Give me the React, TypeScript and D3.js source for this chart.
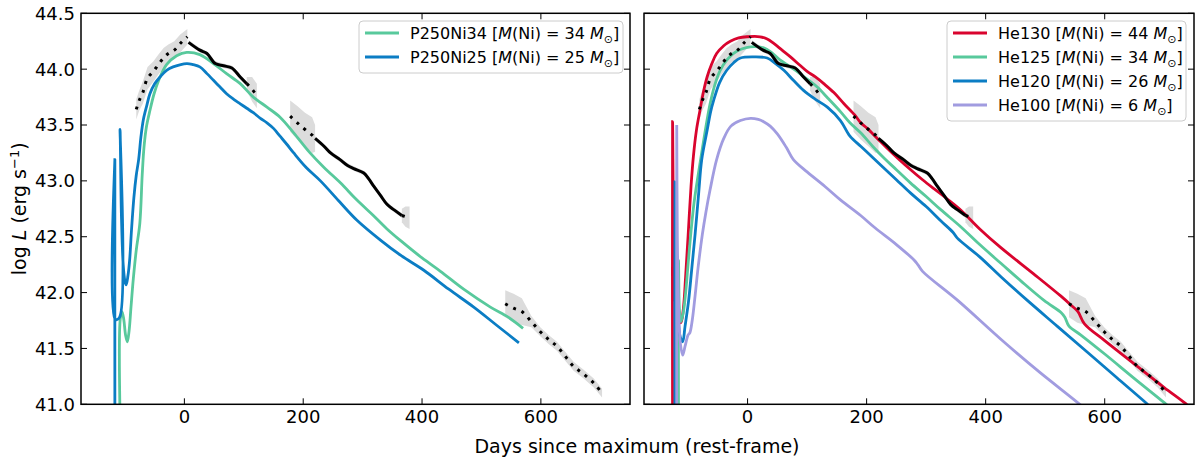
import * as d3 from "d3"

// tick values
const xTicks = [0, 200, 400, 600]
const yTicks = [41.0, 41.5, 42.0, 42.5, 43.0, 43.5, 44.0, 44.5]

// models, [days since max, log L]
const p250Ni34 = [
  [-108, 40.8], [-108, 41.76], [-105, 41.83], [-102, 41.76], [-99, 41.62], [-96, 41.56], [-93, 41.66],
  [-90, 41.86], [-86, 42.12], [-81, 42.38], [-75, 42.62], [-71, 43.05], [-68, 43.3], [-64, 43.48],
  [-58, 43.63], [-51, 43.78], [-44, 43.89], [-30, 44.04], [-13, 44.12], [4, 44.15], [26, 44.13],
  [49, 44.05], [71, 43.96], [94, 43.87], [116, 43.75], [139, 43.66], [161, 43.57], [184, 43.43],
  [210, 43.26], [235, 43.12], [263, 42.98], [290, 42.83], [318, 42.69], [341, 42.57], [365, 42.46],
  [400, 42.31], [431, 42.19], [470, 42.03], [515, 41.87], [545, 41.78], [570, 41.68],
]
const p250Ni25 = [
  [-117, 40.8], [-117, 43.19], [-116.3, 41.76], [-109, 41.78], [-108.3, 43.46], [-106, 42.7], [-103, 42.25],
  [-100, 42.1], [-98, 42.07], [-95, 42.15], [-92, 42.3], [-89, 42.56], [-85, 42.85], [-81, 43.05],
  [-77, 43.19], [-73, 43.4], [-69, 43.55], [-63, 43.68], [-58, 43.78], [-50, 43.87], [-41, 43.93],
  [-30, 43.99], [-19, 44.02], [4, 44.05], [15, 44.04], [26, 44.02], [38, 43.96], [49, 43.9],
  [60, 43.84], [71, 43.78], [83, 43.73], [94, 43.69], [105, 43.65], [116, 43.61], [128, 43.56],
  [139, 43.52], [150, 43.47], [161, 43.4], [172, 43.33], [184, 43.25], [205, 43.12], [229, 43.0],
  [260, 42.82], [290, 42.65], [330, 42.47], [365, 42.33], [403, 42.2], [445, 42.03], [487, 41.87],
  [525, 41.71], [563, 41.55],
]
const he130 = [
  [-126, 40.8], [-126, 43.53], [-124, 42.4], [-121, 41.9], [-116, 41.76], [-112, 41.73], [-108, 41.85],
  [-104, 42.15], [-100, 42.5], [-95, 42.95], [-91, 43.22], [-86, 43.45], [-80, 43.63], [-74, 43.8],
  [-68, 43.93], [-60, 44.05], [-52, 44.14], [-40, 44.21], [-29, 44.25], [-15, 44.28], [-1, 44.29],
  [21, 44.29], [33, 44.27], [44, 44.23], [58, 44.17], [72, 44.11], [89, 44.03], [100, 43.98],
  [114, 43.93], [128, 43.87], [145, 43.79], [162, 43.69], [180, 43.59], [190, 43.52], [201, 43.47],
  [218, 43.38], [235, 43.29], [255, 43.19], [274, 43.1], [294, 43.01], [313, 42.93], [335, 42.84],
  [358, 42.74], [390, 42.57], [426, 42.4], [480, 42.17], [526, 41.97], [545, 41.88], [555, 41.83],
  [566, 41.72], [600, 41.57], [650, 41.36], [700, 41.15], [735, 41.01], [745, 40.96],
]
const he125 = [
  [-116, 40.8], [-116, 42.29], [-114.5, 41.85], [-112, 41.74], [-108, 41.82], [-104, 42.0], [-100, 42.25],
  [-95, 42.55], [-90, 42.8], [-84, 43.02], [-78, 43.22], [-72, 43.42], [-63, 43.69], [-55, 43.86],
  [-46, 43.99], [-35, 44.08], [-24, 44.14], [-10, 44.18], [5, 44.2], [27, 44.19], [40, 44.15],
  [55, 44.08], [69, 44.03], [83, 43.98], [100, 43.91], [117, 43.84], [135, 43.74], [156, 43.62],
  [172, 43.52], [190, 43.43], [210, 43.31], [230, 43.2], [250, 43.1], [274, 42.98], [300, 42.86],
  [325, 42.74], [358, 42.59], [390, 42.43], [426, 42.26], [460, 42.1], [498, 41.93], [527, 41.82],
  [533, 41.78], [540, 41.7], [560, 41.62], [600, 41.45], [650, 41.23], [701, 41.01], [712, 40.96],
]
const he120 = [
  [-122, 40.8], [-122, 42.99], [-120, 42.2], [-117, 41.8], [-113, 41.6], [-109, 41.56], [-105, 41.7],
  [-99, 41.93], [-94, 42.2], [-88, 42.53], [-82, 42.9], [-77, 43.19], [-68, 43.45], [-62, 43.62],
  [-57, 43.72], [-47, 43.88], [-35, 43.99], [-23, 44.06], [-12, 44.1], [10, 44.11], [33, 44.1],
  [47, 44.05], [61, 43.99], [77, 43.9], [94, 43.81], [114, 43.73], [134, 43.66], [156, 43.54],
  [172, 43.4], [190, 43.31], [200, 43.26], [224, 43.14], [250, 43.01], [274, 42.89], [300, 42.77],
  [325, 42.64], [345, 42.54], [352, 42.49], [390, 42.32], [426, 42.14], [470, 41.93], [520, 41.7],
  [570, 41.47], [620, 41.24], [670, 41.01], [680, 40.96],
]
const he100 = [
  [-119, 40.8], [-119, 43.5], [-118, 42.5], [-116, 41.9], [-113, 41.55], [-109, 41.44], [-105, 41.52],
  [-100, 41.62], [-97, 41.64], [-93, 41.75], [-88, 41.98], [-83, 42.23], [-76, 42.52], [-70, 42.72],
  [-63, 42.92], [-52, 43.19], [-40, 43.38], [-28, 43.49], [-12, 43.54], [5, 43.56], [18, 43.55],
  [27, 43.53], [38, 43.49], [50, 43.42], [65, 43.3], [77, 43.19], [100, 43.08], [130, 42.95],
  [156, 42.83], [190, 42.69], [214, 42.58], [250, 42.43], [280, 42.29], [286, 42.25], [294, 42.19],
  [353, 41.93], [426, 41.58], [490, 41.29], [558, 41.0], [568, 40.95],
]

// observed bolometric light curve, [days, log L, error]
const obsRise = [
  [-81, 43.64, 0.09], [-76, 43.72, 0.09], [-70, 43.79, 0.1], [-62, 43.92, 0.1], [-52, 43.98, 0.09],
  [-44, 44.04, 0.09], [-35, 44.1, 0.09], [-27, 44.14, 0.08], [-17, 44.17, 0.08], [-7, 44.23, 0.08],
  [5, 44.29, 0.07],
]
const obsPeak = [
  [7, 44.24, 0.02], [26, 44.17, 0.02], [38, 44.14, 0.02], [52, 44.05, 0.02], [66, 44.03, 0.02],
  [80, 44.01, 0.02], [94, 43.93, 0.02], [105, 43.87, 0.02],
]
const obsPeakTail = [[105, 43.87, 0.06], [114, 43.82, 0.11], [122, 43.76, 0.11]]
const obsMidHead = [
  [178, 43.58, 0.14], [190, 43.52, 0.15], [203, 43.46, 0.15], [215, 43.41, 0.16], [220, 43.38, 0.12],
]
const obsMid = [
  [220, 43.38, 0.02], [235, 43.31, 0.02], [246, 43.25, 0.02], [262, 43.19, 0.02], [274, 43.14, 0.02],
  [285, 43.11, 0.02], [302, 43.07, 0.02], [310, 43.02, 0.02], [319, 42.95, 0.02], [330, 42.87, 0.02],
  [341, 42.79, 0.02], [353, 42.74, 0.02], [366, 42.69, 0.02],
]
const obsMidTail = [[366, 42.69, 0.06], [372, 42.68, 0.09], [379, 42.67, 0.1]]
const obsLate = [
  [540, 41.9, 0.12], [554, 41.86, 0.13], [568, 41.83, 0.12], [584, 41.74, 0.05], [599, 41.65, 0.04],
  [613, 41.58, 0.04], [627, 41.52, 0.04], [641, 41.43, 0.04], [655, 41.34, 0.04], [672, 41.27, 0.04],
  [689, 41.19, 0.04], [703, 41.1, 0.04],
]

const obsSolid = [obsPeak, obsMid]
const obsDotted = [obsRise, obsPeakTail, obsMidHead, obsMidTail, obsLate]

const leftModels = [
  { name: "P250Ni34", ni: 34, color: "#58c99c", data: p250Ni34 },
  { name: "P250Ni25", ni: 25, color: "#0b7dc4", data: p250Ni25 },
]
const rightModels = [
  { name: "He130", ni: 44, color: "#d9042e", data: he130 },
  { name: "He125", ni: 34, color: "#58c99c", data: he125 },
  { name: "He120", ni: 26, color: "#0b7dc4", data: he120 },
  { name: "He100", ni: 6, color: "#a19ce0", data: he100 },
]

const font = "DejaVu Sans, sans-serif"
const plotTop = 13.3
const plotBottom = 404.3

function Panel({ id, x0, x1, models, yLabels, legend }: any) {
  const x = d3.scaleLinear().domain([-174, 750]).range([x0, x1])
  const y = d3.scaleLinear().domain([41, 44.5]).range([plotBottom, plotTop])

  const line = d3
    .line<number[]>()
    .x((d) => x(d[0]))
    .y((d) => y(d[1]))
    .curve(d3.curveCatmullRom.alpha(0.5))

  const band = d3
    .area<number[]>()
    .x((d) => x(d[0]))
    .y0((d) => y(d[1] - d[2]))
    .y1((d) => y(d[1] + d[2]))

  const tick = 6
  const rowH = 24

  return (
    <g>
      <defs>
        <clipPath id={id}>
          <rect x={x0} y={plotTop} width={x1 - x0} height={plotBottom - plotTop} />
        </clipPath>
      </defs>
      <g clipPath={`url(#${id})`}>
        {[...obsDotted, ...obsSolid].map((seg, i) => (
          <path key={"b" + i} d={band(seg) as string} fill="#dcdcdc" />
        ))}
        {models.map((m: any) => (
          <path key={m.name} d={line(m.data) as string} fill="none" stroke={m.color} strokeWidth={2.8} />
        ))}
        {obsSolid.map((seg, i) => (
          <path key={"s" + i} d={line(seg) as string} fill="none" stroke="#000" strokeWidth={3} />
        ))}
        {obsDotted.map((seg, i) => (
          <path
            key={"d" + i}
            d={line(seg) as string}
            fill="none"
            stroke="#000"
            strokeWidth={3}
            strokeDasharray="3 6"
          />
        ))}
      </g>

      {/* ticks, inward on all sides */}
      {xTicks.map((t) => (
        <g key={"x" + t}>
          <line x1={x(t)} x2={x(t)} y1={plotBottom} y2={plotBottom - tick} stroke="#000" strokeWidth={1} />
          <line x1={x(t)} x2={x(t)} y1={plotTop} y2={plotTop + tick} stroke="#000" strokeWidth={1} />
          <text x={x(t)} y={423} textAnchor="middle" fontSize={18} fontFamily={font}>
            {t}
          </text>
        </g>
      ))}
      {yTicks.map((t) => (
        <g key={"y" + t}>
          <line x1={x0} x2={x0 + tick} y1={y(t)} y2={y(t)} stroke="#000" strokeWidth={1} />
          <line x1={x1} x2={x1 - tick} y1={y(t)} y2={y(t)} stroke="#000" strokeWidth={1} />
          {yLabels && (
            <text x={x0 - 6} y={y(t)} dy="0.36em" textAnchor="end" fontSize={18} fontFamily={font}>
              {t.toFixed(1)}
            </text>
          )}
        </g>
      ))}
      <rect x={x0} y={plotTop} width={x1 - x0} height={plotBottom - plotTop} fill="none" stroke="#000" strokeWidth={1.5} />

      {/* legend */}
      <rect
        x={legend.x}
        y={21}
        width={legend.w}
        height={models.length * rowH + 4}
        rx={4}
        fill="#fff"
        fillOpacity={0.8}
        stroke="#cccccc"
        strokeWidth={1}
      />
      {models.map((m: any, i: number) => {
        const cy = 33 + i * rowH
        return (
          <g key={"l" + m.name}>
            <line x1={legend.x + 6} x2={legend.x + 40} y1={cy} y2={cy} stroke={m.color} strokeWidth={2.8} />
            <text x={legend.x + 51} y={cy} dy="0.36em" fontSize={16} fontFamily={font}>
              {m.name} [<tspan fontStyle="italic">M</tspan>(Ni) = {m.ni} <tspan fontStyle="italic">M</tspan>
              <tspan fontSize={11} dy={4}>⊙</tspan>
              <tspan dy={-4}>]</tspan>
            </text>
          </g>
        )
      })}
    </g>
  )
}

export default function App() {
  return (
    <svg
      width={1200}
      height={464}
      style={{ position: "absolute", left: 0, top: 0, background: "#fff" }}
    >
      <Panel id="clipL" x0={81} x1={630} models={leftModels} yLabels legend={{ x: 359, w: 264 }} />
      <Panel id="clipR" x0={644} x1={1194} models={rightModels} yLabels={false} legend={{ x: 947, w: 239 }} />
      <text
        transform={`translate(19,${(plotTop + plotBottom) / 2}) rotate(-90)`}
        textAnchor="middle"
        dy="0.36em"
        fontSize={19}
        fontFamily={font}
      >
        log <tspan fontStyle="italic">L</tspan> (erg s<tspan fontSize={13} dy={-7}>−1</tspan>
        <tspan dy={7}>)</tspan>
      </text>
      <text x={637} y={453} textAnchor="middle" fontSize={19} fontFamily={font}>
        Days since maximum (rest-frame)
      </text>
    </svg>
  )
}
